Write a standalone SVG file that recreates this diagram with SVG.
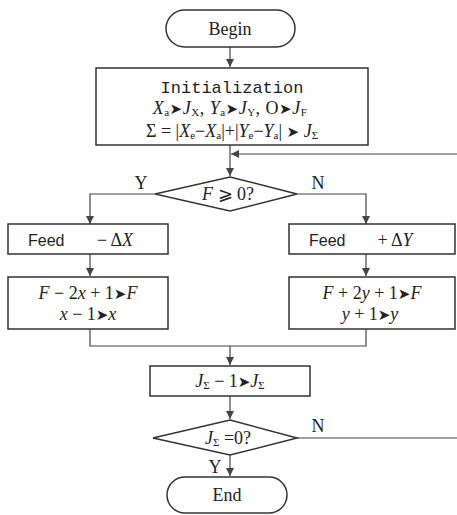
<svg xmlns="http://www.w3.org/2000/svg" width="457" height="515" viewBox="0 0 457 515">
<style>
.s{fill:#fff;stroke:#333;stroke-width:1.5}
.c{fill:none;stroke:#444;stroke-width:1.2}
.t{font-family:"Liberation Serif",serif;font-size:18px;fill:#222;text-anchor:middle}
.i{font-style:italic}
.sub{font-size:11px;font-style:normal}
.m{font-family:"Liberation Mono",monospace;font-size:17px;fill:#222;text-anchor:middle}
.f{font-family:"Liberation Sans",sans-serif;font-size:16px;fill:#222}
.a{font-family:"DejaVu Sans",sans-serif;font-size:15px}
</style>
<defs>
<marker id="ar" markerWidth="8" markerHeight="12" refX="8" refY="6" orient="auto" markerUnits="userSpaceOnUse">
<path d="M0,2 L8,6 L0,10 Z" fill="#444"/>
</marker>
</defs>
<g id="connectors">
<path class="c" d="M230,47 V67" marker-end="url(#ar)"/>
<path class="c" d="M230,145 V176" marker-end="url(#ar)"/>
<path class="c" d="M457,154 H231" marker-end="url(#ar)"/>
<path class="c" d="M155,194 H90 V224" marker-end="url(#ar)"/>
<path class="c" d="M297,194 H366 V224" marker-end="url(#ar)"/>
<path class="c" d="M90,254 V276" marker-end="url(#ar)"/>
<path class="c" d="M366,254 V276" marker-end="url(#ar)"/>
<path class="c" d="M90,329 V346 H366 V329"/>
<path class="c" d="M230,346 V365" marker-end="url(#ar)"/>
<path class="c" d="M230,396 V419" marker-end="url(#ar)"/>
<path class="c" d="M297,438 H457"/>
<path class="c" d="M230,455 V476" marker-end="url(#ar)"/>
<text class="t" x="141" y="189">Y</text>
<text class="t" x="318" y="189">N</text>
<text class="t" x="318" y="432">N</text>
<text class="t" x="215" y="473">Y</text>
</g>
<g id="begin">
<rect class="s" x="166" y="10" width="129" height="37" rx="18.5"/>
<text class="t" x="230" y="35">Begin</text>
</g>
<g id="init">
<rect class="s" x="96" y="68" width="272" height="77"/>
<text class="m" x="232" y="93">Initialization</text>
<text class="t" x="230" y="114" style="letter-spacing:0.5px"><tspan class="i">X</tspan><tspan class="sub" dy="2">a</tspan><tspan class="a" dy="-2">➤</tspan><tspan class="i">J</tspan><tspan class="sub" dy="2">X</tspan><tspan dy="-2">, </tspan><tspan class="i">Y</tspan><tspan class="sub" dy="2">a</tspan><tspan class="a" dy="-2">➤</tspan><tspan class="i">J</tspan><tspan class="sub" dy="2">Y</tspan><tspan dy="-2">,  O</tspan><tspan class="a">➤</tspan><tspan class="i">J</tspan><tspan class="sub" dy="2">F</tspan></text>
<text class="t" x="232" y="137">Σ = |<tspan class="i">X</tspan><tspan class="sub" dy="2">e</tspan><tspan dy="-2">−</tspan><tspan class="i">X</tspan><tspan class="sub" dy="2">a</tspan><tspan dy="-2">|+|</tspan><tspan class="i">Y</tspan><tspan class="sub" dy="2">e</tspan><tspan dy="-2">−</tspan><tspan class="i">Y</tspan><tspan class="sub" dy="2">a</tspan><tspan dy="-2">| </tspan><tspan class="a">➤</tspan> <tspan class="i">J</tspan><tspan class="sub" dy="2">Σ</tspan></text>
</g>
<g id="cond1">
<polygon class="s" points="230,177 297,194 230,211 155,194"/>
<text class="t" x="228" y="200"><tspan class="i">F</tspan> ⩾ 0?</text>
</g>
<g id="feedx">
<rect class="s" x="8" y="224" width="160" height="30"/>
<text class="f" x="28" y="246">Feed</text>
<text class="t" x="115" y="246">− Δ<tspan class="i">X</tspan></text>
</g>
<g id="feedy">
<rect class="s" x="289" y="224" width="166" height="30"/>
<text class="f" x="309" y="246">Feed</text>
<text class="t" x="395" y="246">+ Δ<tspan class="i">Y</tspan></text>
</g>
<g id="updx">
<rect class="s" x="8" y="277" width="160" height="52"/>
<text class="t" x="88" y="299"><tspan class="i">F</tspan> − 2<tspan class="i">x</tspan> + 1<tspan class="a">➤</tspan><tspan class="i">F</tspan></text>
<text class="t" x="88" y="320"><tspan class="i">x</tspan> − 1<tspan class="a">➤</tspan><tspan class="i">x</tspan></text>
</g>
<g id="updy">
<rect class="s" x="289" y="277" width="166" height="52"/>
<text class="t" x="372" y="299"><tspan class="i">F</tspan> + 2<tspan class="i">y</tspan> + 1<tspan class="a">➤</tspan><tspan class="i">F</tspan></text>
<text class="t" x="370" y="320"><tspan class="i">y</tspan> + 1<tspan class="a">➤</tspan><tspan class="i">y</tspan></text>
</g>
<g id="dec">
<rect class="s" x="150" y="366" width="160" height="30"/>
<text class="t" x="230" y="387"><tspan class="i">J</tspan><tspan class="sub" dy="2">Σ</tspan><tspan dy="-2"> − 1</tspan><tspan class="a">➤</tspan><tspan class="i">J</tspan><tspan class="sub" dy="2">Σ</tspan></text>
</g>
<g id="cond2">
<polygon class="s" points="230,420 297,438 230,455 153,438"/>
<text class="t" x="228" y="444"><tspan class="i">J</tspan><tspan class="sub" dy="2">Σ</tspan><tspan dy="-2"> =0?</tspan></text>
</g>
<g id="end">
<rect class="s" x="167" y="477" width="120" height="36" rx="18"/>
<text class="t" x="227" y="501">End</text>
</g>
</svg>
